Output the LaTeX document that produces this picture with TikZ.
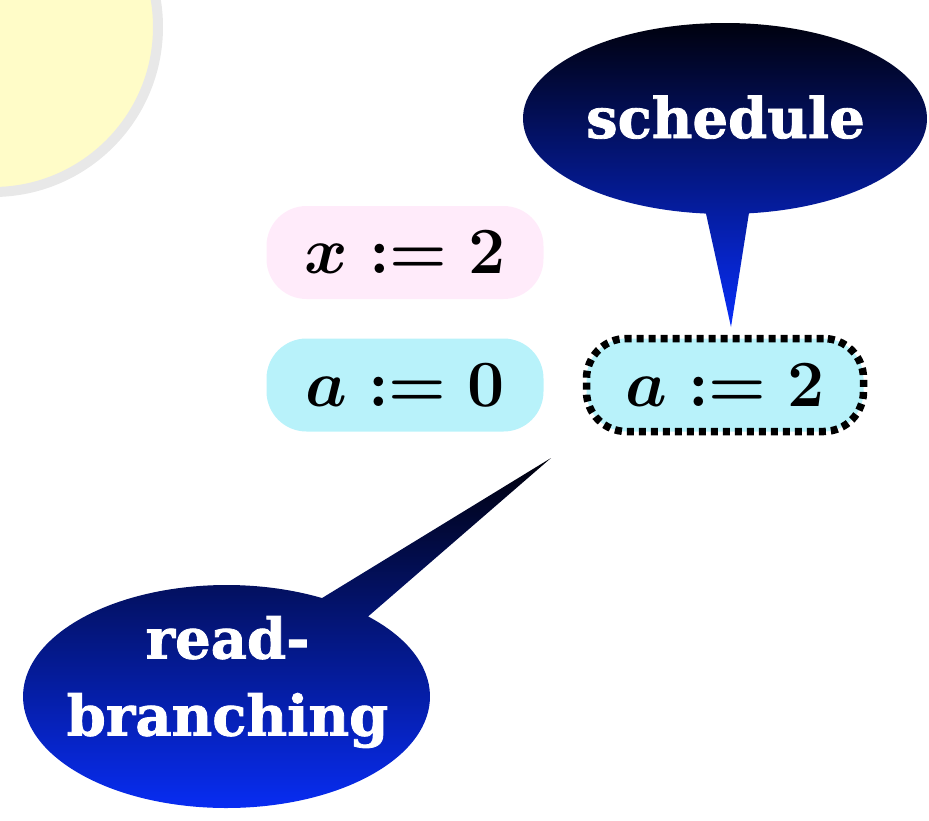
\RequirePackage{fix-cm}
\documentclass[tikz,border=0pt]{standalone}
\usepackage{fontspec}
\usetikzlibrary{calc}
\newfontfamily\bubblefont{DejaVu Serif Bold}[FakeBold=1.5]
\definecolor{sunyellow}{RGB}{255,252,200}
\definecolor{sungray}{RGB}{232,232,232}
\definecolor{boxpink}{RGB}{255,235,250}
\definecolor{boxcyan}{RGB}{184,242,250}
\definecolor{bubbletop}{RGB}{0,0,10}
\definecolor{bubblebottom}{RGB}{8,46,250}
\tikzset{
  assignbox/.style={rounded corners=40pt, minimum width=277pt, minimum height=93pt,
    inner sep=0pt, font=\fontsize{66}{72}\selectfont\boldmath},
  dotborder/.style={draw=black, line width=7.5pt, dash pattern=on 7pt off 5pt},
  bubbleshade/.style={top color=bubbletop, bottom color=bubblebottom},
  bubbletext/.style={text=white, inner sep=0pt,
    font=\bubblefont\fontsize{56}{77}\selectfont}
}
\begin{document}
\begin{tikzpicture}[x=1pt,y=-1pt]
\useasboundingbox (0,0) rectangle (929,820);
% sun
\node[circle, fill=sunyellow, draw=sungray, line width=10pt, minimum size=330pt, inner sep=0pt] (sun) at (-7,27) {};
% assignments
\node[assignbox, fill=boxpink] (x2) at (405,252.5) {$x := 2$};
\node[assignbox, fill=boxcyan] (a0) at (405,385) {$a := 0$};
\node[assignbox, fill=boxcyan, dotborder] (a2) at (725,385) {$a := 2$};
% schedule callout
\coordinate (schedc) at (725,118.5);
\coordinate (schedtip) at (731,327);
\shade[bubbleshade] (schedtip) -- ($(schedc)+(83.2:202 and 95.5)$)
  arc[start angle=83.2, end angle=-264.6, x radius=202, y radius=95.5] -- cycle;
\node[bubbletext, anchor=base] (sched) at (725.5,138) {schedule};
% read-branching callout
\coordinate (rbc) at (226.5,696.5);
\coordinate (rbtip) at (551,458);
\shade[bubbleshade] (rbtip) -- ($(rbc)+(-45.9:203.5 and 111.5)$)
  arc[start angle=-45.9, end angle=298, x radius=203.5, y radius=111.5] -- cycle;
\node[bubbletext, align=center] (rb) at (227.5,682) {read-\\branching};
\end{tikzpicture}
\end{document}
